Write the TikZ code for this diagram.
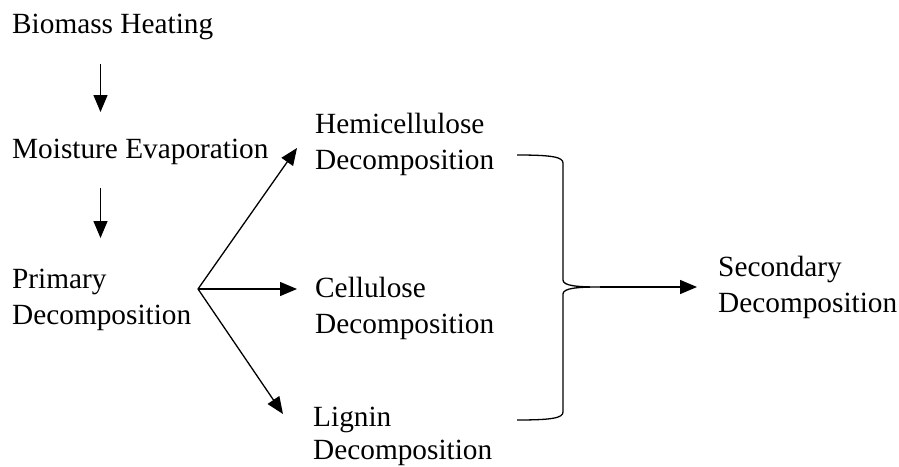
\documentclass[tikz,border=0pt]{standalone}
\usepackage{fontspec}
\setmainfont{Liberation Serif}
\usetikzlibrary{arrows.meta}
\begin{document}
\begin{tikzpicture}[x=1pt,y=-1pt,
  lbl/.style={inner sep=0pt,align=left,font=\fontsize{29.3}{35.5}\selectfont},
  arr/.style={line width=1.3pt,-{Triangle[length=17pt,width=14pt]}},
  brace/.style={line width=1.3pt}]
\useasboundingbox (0,0) rectangle (899,466);
\node[lbl,anchor=base west] (bio) at (12,33) {Biomass Heating};
\node[lbl,anchor=base west] (moist) at (12,158) {Moisture Evaporation};
\node[lbl,anchor=base west] (prim) at (12,324) {Primary\\Decomposition};
\node[lbl,anchor=base west] (hemi) at (315,169) {Hemicellulose\\Decomposition};
\node[lbl,anchor=base west] (cel) at (315,333) {Cellulose\\Decomposition};
\node[lbl,anchor=base west,font=\fontsize{29.3}{33}\selectfont] (lig) at (313,459) {Lignin\\Decomposition};
\node[lbl,anchor=base west] (sec) at (718,312) {Secondary\\Decomposition};
\coordinate (a1s) at (100.5,64);
\coordinate (a1e) at (100.5,112);
\coordinate (a2s) at (100.5,188);
\coordinate (a2e) at (100.5,238);
\coordinate (br) at (198,289);
\coordinate (th) at (297,148);
\coordinate (tc) at (297,289);
\coordinate (tl) at (283,414);
\coordinate (bt) at (600,287);
\coordinate (ts) at (697,287);
\draw[arr] (a1s) -- (a1e);
\draw[arr] (a2s) -- (a2e);
\draw[arr] (br) -- (th);
\draw[arr] (br) -- (tc);
\draw[arr] (br) -- (tl);
\draw[brace] (517,155) .. controls (552,155) and (563,157) .. (563,163)
  -- (563,280) .. controls (563,286) and (578,287) .. (bt)
  .. controls (578,287) and (563,288) .. (563,294)
  -- (563,412) .. controls (563,418) and (552,420) .. (517,420);
\draw[arr] (bt) -- (ts);
\end{tikzpicture}
\end{document}
